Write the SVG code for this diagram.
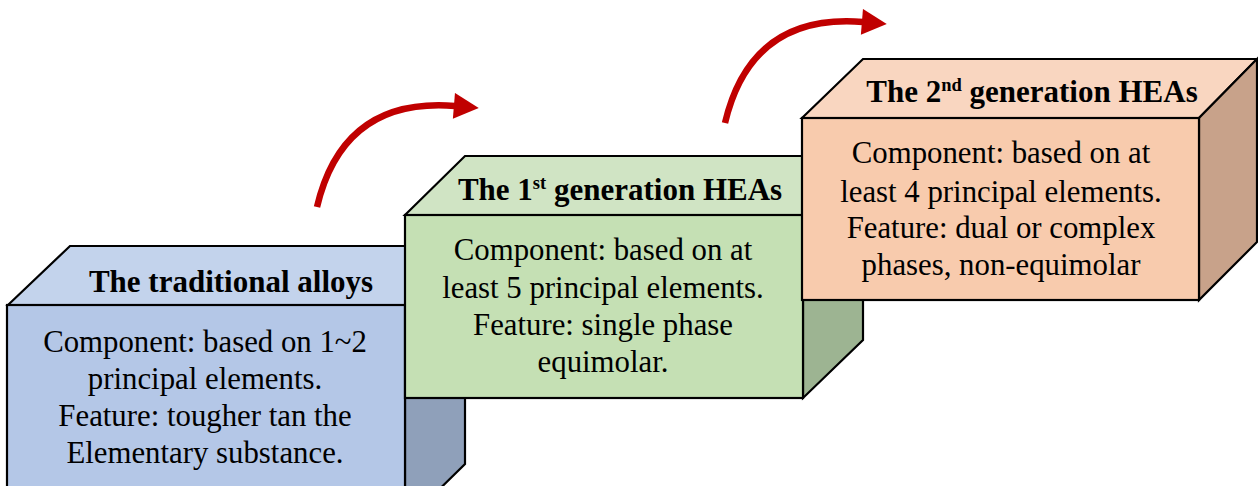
<svg xmlns="http://www.w3.org/2000/svg" width="1258" height="486" viewBox="0 0 1258 486">
<style>
.face{stroke:#000;stroke-width:2.2;stroke-linejoin:miter}
.title{font-family:"Liberation Serif","Times New Roman",serif;font-weight:bold;font-size:31px;fill:#000;text-anchor:middle}
.body{font-family:"Liberation Serif","Times New Roman",serif;font-size:30.8px;fill:#000;text-anchor:middle}
.sup{font-size:18.5px}
.arrow{fill:none;stroke:#C00000;stroke-width:6.5;stroke-linecap:butt}
</style>
<defs>
<marker id="head" markerUnits="userSpaceOnUse" markerWidth="26" markerHeight="26" refX="1" refY="12" orient="auto" viewBox="0 0 23 24">
<path d="M0,0 L23,12 L0,24 z" fill="#C00000"/>
</marker>
</defs>
<rect width="1258" height="486" fill="#fff"/>
<g id="traditional">
<polygon class="face" fill="#C3D3EC" points="8,305 70,246 465,246 405,305"/>
<polygon class="face" fill="#8FA0BA" points="405,305 465,246 465,464 405,523"/>
<rect class="face" fill="#B4C7E7" x="7" y="305" width="398" height="218"/>
<text class="title" x="231" y="292">The traditional alloys</text>
<text class="body" x="205" y="352">Component: based on 1~2</text>
<text class="body" x="205" y="389">principal elements.</text>
<text class="body" x="205" y="426">Feature: tougher tan the</text>
<text class="body" x="205" y="463">Elementary substance.</text>
</g>
<g id="gen1">
<polygon class="face" fill="#D0E4C4" points="405,215 465,156 863,156 803,215"/>
<polygon class="face" fill="#9DB492" points="803,215 863,156 863,340 803,398"/>
<rect class="face" fill="#C5E0B4" x="405" y="215" width="398" height="183"/>
<text class="title" x="620" y="200">The 1<tspan class="sup" dy="-11">st</tspan><tspan dy="11"> generation HEAs</tspan></text>
<text class="body" x="603" y="260">Component: based on at</text>
<text class="body" x="603" y="298">least 5 principal elements.</text>
<text class="body" x="603" y="335">Feature: single phase</text>
<text class="body" x="603" y="372">equimolar.</text>
</g>
<g id="gen2">
<polygon class="face" fill="#F9D6C0" points="802,118 863,59 1257,59 1199,118"/>
<polygon class="face" fill="#C8A28A" points="1199,118 1257,59 1257,242 1199,300"/>
<rect class="face" fill="#F8CBAD" x="802" y="118" width="397" height="182"/>
<text class="title" x="1032" y="102">The 2<tspan class="sup" dy="-11">nd</tspan><tspan dy="11"> generation HEAs</tspan></text>
<text class="body" x="1001" y="163">Component: based on at</text>
<text class="body" x="1001" y="202">least 4 principal elements.</text>
<text class="body" x="1001" y="238">Feature: dual or complex</text>
<text class="body" x="1001" y="275">phases, non-equimolar</text>
</g>
<g id="connectors">
<path class="arrow" d="M317,207 Q343,97 455,106" marker-end="url(#head)"/>
<path class="arrow" d="M725,123 Q751,13 863,22" marker-end="url(#head)"/>
</g>
</svg>
